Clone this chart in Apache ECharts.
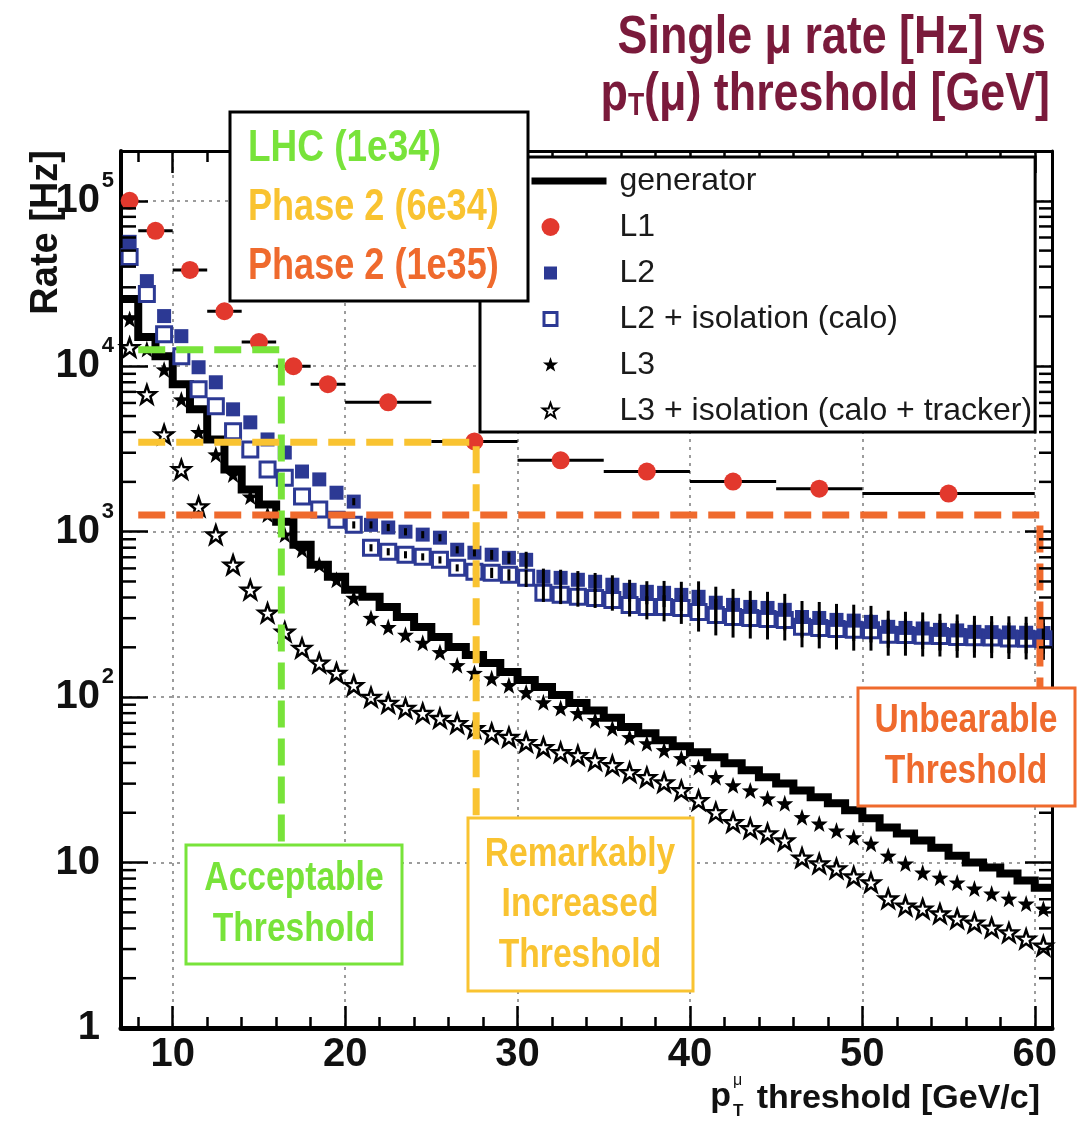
<!DOCTYPE html>
<html>
<head>
<meta charset="utf-8">
<title>Single muon rate vs pT threshold</title>
<script src="https://cdn.jsdelivr.net/npm/echarts@6/dist/echarts.min.js"></script>
<style>
  html, body { margin: 0; padding: 0; background: #fff; }
  #chart { width: 1088px; height: 1121px; }
</style>
</head>
<body>
<div id="chart"></div>
<script>
// ---- data (rates in Hz, pT in GeV/c) ----
var xMin = 7, xMax = 61, yMin = 1, yMax = 200000;

// 1 GeV bins
var binCenters = [7.5, 8.5, 9.5, 10.5, 11.5, 12.5, 13.5, 14.5, 15.5, 16.5, 17.5, 18.5, 19.5, 20.5,
  21.5, 22.5, 23.5, 24.5, 25.5, 26.5, 27.5, 28.5, 29.5, 30.5, 31.5, 32.5, 33.5, 34.5, 35.5, 36.5,
  37.5, 38.5, 39.5, 40.5, 41.5, 42.5, 43.5, 44.5, 45.5, 46.5, 47.5, 48.5, 49.5, 50.5, 51.5, 52.5,
  53.5, 54.5, 55.5, 56.5, 57.5, 58.5, 59.5, 60.5];
var genEdges = [7, 8, 9, 10, 11, 12, 13, 14, 15, 16, 17, 18, 19, 20, 21, 22, 23, 24, 25, 26, 27, 28,
  29, 30, 31, 32, 33, 34, 35, 36, 37, 38, 39, 40, 41, 42, 43, 44, 45, 46, 47, 48, 49, 50, 51, 52, 53,
  54, 55, 56, 57, 58, 59, 60, 61];

var genRate = [25500, 15000, 11500, 7790, 5490, 3610, 2380, 1800, 1460, 1150, 834, 631, 534, 445,
  404, 351, 305, 265, 231, 201, 180, 161, 142, 127, 115, 103, 92, 83, 75, 66, 60.5, 54.9, 50.5, 46.4,
  43.3, 39.8, 36.1, 32.8, 30.1, 27.3, 24.8, 22.8, 20.7, 18.5, 16.3, 15.0, 13.6, 12.3, 11.0, 10.0,
  9.33, 8.58, 7.79, 7.05];

// L1 comes in wider bins
var l1X = [7.5, 9, 11, 13, 15, 17, 19, 22.5, 27.5, 32.5, 37.5, 42.5, 47.5, 55];
var l1Lo = [7, 8, 10, 12, 14, 16, 18, 20, 25, 30, 35, 40, 45, 50];
var l1Hi = [8, 10, 12, 14, 16, 18, 20, 25, 30, 35, 40, 45, 50, 60];
var l1Rate = [100000, 65800, 38200, 21500, 14000, 10000, 7790, 6050, 3510, 2700, 2310, 2010, 1820, 1700];

var l2Rate = [56500, 32700, 20100, 15200, 9860, 8000, 5490, 4580, 3610, 3010, 2310, 2070, 1720, 1520,
  1100, 1060, 1000, 960, 920, 778, 746, 726, 695, 676, 534, 526, 512, 498, 478, 445, 433, 427, 415,
  404, 372, 361, 351, 346, 337, 305, 301, 293, 290, 285, 266, 262, 260, 255, 253, 248, 247, 246, 245, 244];
var l2Err = [0, 0, 0, 0, 0, 0, 0, 0, 0, 0, 0, 0, 0, 76, 55, 53, 50, 48, 46, 39, 37, 50, 55, 80,
  64, 63, 66, 65, 67, 67, 69, 77, 83, 97, 93, 90, 88, 87, 84, 76, 75, 73, 72, 71, 67, 66, 65, 64, 63,
  62, 62, 62, 61, 61];

var l2IsoRate = [45800, 27300, 15600, 11500, 7260, 5730, 4040, 3140, 2380, 2120, 1630, 1360, 1180, 1100,
  800, 757, 726, 705, 676, 605, 573, 565, 549, 526, 427, 415, 404, 398, 387, 361, 351, 350, 346, 327,
  314, 305, 301, 297, 293, 266, 262, 258, 255, 254, 238, 237, 235, 234, 231, 230, 229, 226, 225, 224];
var l2IsoErr = [0, 0, 0, 0, 0, 0, 0, 0, 0, 0, 0, 0, 0, 55, 40, 38, 36, 35, 34, 30, 29, 40, 44, 63,
  51, 50, 52, 52, 54, 54, 56, 63, 69, 78, 78, 76, 75, 74, 73, 66, 65, 64, 64, 63, 60, 59, 59, 58, 58,
  57, 57, 56, 56, 56];

var l3Rate = [19300, 12700, 9560, 6300, 4000, 2930, 2220, 1630, 1270, 960, 778, 631, 512, 398, 301,
  265, 238, 213, 187, 156, 140, 130, 118, 107, 93, 85.8, 80, 72.6, 64.9, 57.3, 52.6, 47.8, 42.7, 37.7,
  32.8, 29.3, 27.3, 24.4, 22.8, 18.8, 17.2, 15.6, 14.2, 13.0, 11.0, 9.86, 8.7, 8.1, 7.57, 6.96, 6.49,
  6.05, 5.65, 5.26];

var l3IsoRate = [13000, 6760, 3870, 2380, 1420, 960, 631, 445, 323, 248, 198, 161, 140, 118, 100, 92,
  85.8, 80, 74.6, 69.5, 64.9, 60.5, 57.3, 53.4, 49.8, 46.4, 44.5, 41.5, 38.7, 35.1, 32.8, 30.5, 27.3,
  23.8, 20.1, 17.5, 16.1, 15.0, 13.6, 10.7, 9.86, 9.2, 8.23, 7.57, 6.05, 5.48, 5.26, 4.91, 4.58, 4.33,
  4.04, 3.77, 3.46, 3.14];

// threshold guides: [x, rate] corners
var thrGreen = [[8, 12600], [16.3, 12600], [16.3, 12.7]];
var thrYellow = [[8, 3470], [27.6, 3470], [27.6, 18.5]];
var thrOrange = [[8, 1260], [60.3, 1260], [60.3, 113]];

var yMinorTicks = [2, 3, 4, 5, 6, 7, 8, 9, 20, 30, 40, 50, 60, 70, 80, 90, 200, 300, 400, 500, 600,
  700, 800, 900, 2000, 3000, 4000, 5000, 6000, 7000, 8000, 9000, 20000, 30000, 40000, 50000, 60000,
  70000, 80000, 90000];

// ---- styles ----
var RED = '#e2382d', BLUE = '#2c3994', GREEN = '#78e33a', YELLOW = '#f9c331', ORANGE = '#ef6a2d';
var MAROON = '#7a1a3b';
var NARROW = "'Liberation Sans Narrow', 'Liberation Sans', sans-serif";
var SANS = "'Liberation Sans', Arial, sans-serif";
var STAR = 'path://M10 0L12.351 6.764L19.511 6.91L13.804 11.236L15.878 18.09L10 14L4.122 18.09L6.196 11.236L0.489 6.91L7.649 6.764Z';
var LEG_BOX = 'M0 0M83 22';
var LEG_STAR = 'M19 3L20.88 8.41L26.61 8.53L22.04 11.99L23.7 17.47L19 14.2L14.3 17.47L15.96 11.99L11.39 8.53L17.12 8.41Z';

function pairs(xs, ys) {
  return xs.map(function (x, i) { return [x, ys[i]]; });
}

function errBars(rates, errs) {
  var out = [];
  binCenters.forEach(function (x, i) {
    if (errs[i] > 0) out.push([x, rates[i] - errs[i], rates[i] + errs[i]]);
  });
  return out;
}

function vBarItem(params, api) {
  var p1 = api.coord([api.value(0), api.value(1)]);
  var p2 = api.coord([api.value(0), api.value(2)]);
  return {
    type: 'line',
    shape: { x1: p1[0], y1: p1[1], x2: p2[0], y2: p2[1] },
    style: { stroke: '#000', lineWidth: 3 }
  };
}

function threshold(data, color) {
  return {
    type: 'line', data: data, z: 6, silent: true, symbol: 'none', animation: false,
    lineStyle: { color: color, width: 7, type: [27, 11], cap: 'butt' }
  };
}

var chart = echarts.init(document.getElementById('chart'), null, { renderer: 'canvas' });

var genData = genEdges.map(function (x, i) {
  return [x, genRate[Math.min(i, genRate.length - 1)]];
});

var option = {
  backgroundColor: '#fff',
  animation: false,
  grid: { left: 121, right: 36, top: 151, bottom: 93 },
  xAxis: [
    {
      type: 'value', position: 'bottom', min: xMin, max: xMax,
      axisLine: { lineStyle: { color: '#000', width: 5 } },
      axisTick: { inside: true, length: 22, lineStyle: { color: '#000', width: 2.5 } },
      minorTick: { show: true, splitNumber: 5, length: 11, lineStyle: { color: '#000', width: 2.5 } },
      axisLabel: {
        margin: 7, showMinLabel: false, showMaxLabel: false,
        fontSize: 40, fontWeight: 'bold', fontFamily: NARROW, color: '#111'
      },
      splitLine: {
        show: true, showMinLine: false, showMaxLine: false,
        lineStyle: { color: '#9c9c9c', width: 2, type: [3, 5] }
      }
    },
    {
      type: 'value', position: 'top', min: xMin, max: xMax,
      axisLine: { lineStyle: { color: '#000', width: 3 } },
      axisTick: { inside: true, length: 22, lineStyle: { color: '#000', width: 2.5 } },
      minorTick: { show: true, splitNumber: 5, length: 11, lineStyle: { color: '#000', width: 2.5 } },
      axisLabel: { show: false },
      splitLine: { show: false }
    }
  ],
  yAxis: [
    {
      type: 'log', logBase: 10, position: 'left', min: yMin, max: yMax,
      axisLine: { lineStyle: { color: '#000', width: 4 } },
      axisTick: { inside: true, length: 27, lineStyle: { color: '#000', width: 2.5 } },
      axisLabel: {
        margin: 7, showMaxLabel: false, color: '#111',
        formatter: function (v) {
          var e = Math.round(Math.log10(v));
          if (e === 0) return '{b|1}{s|\u00a0}';
          if (e === 1) return '{b|10}{s|\u00a0}';
          return '{b|10}{s|' + e + '}';
        },
        rich: {
          b: { fontSize: 40, fontWeight: 'bold', fontFamily: NARROW, color: '#111' },
          s: { fontSize: 22, fontWeight: 'bold', fontFamily: NARROW, color: '#111', width: 14, padding: [0, 0, 40, 0] }
        }
      },
      splitLine: {
        show: true, showMinLine: false, showMaxLine: false,
        lineStyle: { color: '#9c9c9c', width: 2, type: [3, 5] }
      }
    },
    {
      type: 'log', logBase: 10, position: 'right', min: yMin, max: yMax,
      axisLine: { lineStyle: { color: '#000', width: 3 } },
      axisTick: { inside: true, length: 27, lineStyle: { color: '#000', width: 2.5 } },
      axisLabel: { show: false },
      splitLine: { show: false }
    }
  ],
  legend: {
    orient: 'vertical', left: 480, top: 157,
    padding: [8, 3, 5, 50], itemGap: 14, itemWidth: 83, itemHeight: 22,
    backgroundColor: '#fff', borderColor: '#000', borderWidth: 3,
    selectedMode: false,
    textStyle: { fontSize: 32, fontFamily: SANS, color: '#1a1a1a' },
    data: [
      { name: 'generator', icon: 'path://' + LEG_BOX + 'M0 7.5H75V14.5H0Z', itemStyle: { color: '#000', borderWidth: 0, opacity: 1 } },
      { name: 'L1', icon: 'path://' + LEG_BOX + 'M10 11A9 9 0 1 0 28 11A9 9 0 1 0 10 11Z', itemStyle: { color: RED, borderWidth: 0, opacity: 1 } },
      { name: 'L2', icon: 'path://' + LEG_BOX + 'M12.5 4.5H25.5V17.5H12.5Z', itemStyle: { color: BLUE, borderWidth: 0, opacity: 1 } },
      { name: 'L2 + isolation (calo)', icon: 'path://' + LEG_BOX + 'M12.5 4.5H25.5V17.5H12.5Z', itemStyle: { color: '#fff', borderColor: BLUE, borderWidth: 3, opacity: 1 } },
      { name: 'L3', icon: 'path://' + LEG_BOX + LEG_STAR, itemStyle: { color: '#000', borderWidth: 0, opacity: 1 } },
      { name: 'L3 + isolation (calo + tracker)', icon: 'path://' + LEG_BOX + LEG_STAR, itemStyle: { color: 'rgba(0,0,0,0)', borderColor: '#000', borderWidth: 2, opacity: 1 } }
    ]
  },
  series: [
    {
      name: 'generator', type: 'line', step: 'end', data: genData, z: 2,
      showSymbol: false, symbol: 'none', color: '#000',
      lineStyle: { color: '#000', width: 8, join: 'miter' }
    },
    {
      name: 'L1 bins', type: 'custom', z: 3, silent: true,
      data: l1X.map(function (x, i) { return [l1Lo[i], l1Hi[i], l1Rate[i]]; }),
      encode: { x: [0, 1], y: 2 },
      renderItem: function (params, api) {
        var p1 = api.coord([api.value(0), api.value(2)]);
        var p2 = api.coord([api.value(1), api.value(2)]);
        return {
          type: 'line',
          shape: { x1: p1[0], y1: p1[1], x2: p2[0], y2: p2[1] },
          style: { stroke: '#000', lineWidth: 3 }
        };
      }
    },
    {
      name: 'L1', type: 'scatter', data: pairs(l1X, l1Rate), z: 4,
      symbol: 'circle', symbolSize: 18, itemStyle: { color: RED, opacity: 1 }
    },
    {
      name: 'L2 + isolation (calo)', type: 'scatter', data: pairs(binCenters, l2IsoRate), z: 4,
      symbol: 'rect', symbolSize: 15,
      itemStyle: { color: '#fff', borderColor: BLUE, borderWidth: 3, opacity: 1 }
    },
    {
      name: 'L2', type: 'scatter', data: pairs(binCenters, l2Rate), z: 4,
      symbol: 'rect', symbolSize: 14, itemStyle: { color: BLUE, opacity: 1 }
    },
    {
      name: 'L2 err', type: 'custom', z: 5, silent: true,
      data: errBars(l2Rate, l2Err), encode: { x: 0, y: [1, 2] }, renderItem: vBarItem
    },
    {
      name: 'L2 iso err', type: 'custom', z: 5, silent: true,
      data: errBars(l2IsoRate, l2IsoErr), encode: { x: 0, y: [1, 2] }, renderItem: vBarItem
    },
    {
      name: 'L3', type: 'scatter', data: pairs(binCenters, l3Rate), z: 4,
      symbol: STAR, symbolSize: 17, itemStyle: { color: '#000', opacity: 1 }
    },
    {
      name: 'L3 + isolation (calo + tracker)', type: 'scatter', data: pairs(binCenters, l3IsoRate), z: 4,
      symbol: STAR, symbolSize: 18,
      itemStyle: { color: 'rgba(0,0,0,0)', borderColor: '#000', borderWidth: 2.5, opacity: 1 }
    },
    threshold(thrGreen, GREEN),
    threshold(thrYellow, YELLOW),
    threshold(thrOrange, ORANGE),
    {
      // minor log ticks on left and right frame
      name: 'y minor ticks', type: 'custom', z: 10, silent: true,
      data: yMinorTicks.map(function (v) { return [xMin, v]; }),
      renderItem: function (params, api) {
        var cs = params.coordSys;
        var y = api.coord([xMin, api.value(1)])[1];
        var st = { stroke: '#000', lineWidth: 2.5 };
        return {
          type: 'group',
          children: [
            { type: 'line', shape: { x1: cs.x, y1: y, x2: cs.x + 15, y2: y }, style: st },
            { type: 'line', shape: { x1: cs.x + cs.width, y1: y, x2: cs.x + cs.width - 13, y2: y }, style: st }
          ]
        };
      }
    }
  ],
  graphic: [
    // header
    {
      type: 'text', x: 1046, y: 38, scaleX: 0.83, z: 100,
      style: { text: 'Single μ rate [Hz] vs', fill: MAROON, fontSize: 54, fontWeight: 'bold', fontFamily: SANS, align: 'right', verticalAlign: 'middle' }
    },
    {
      type: 'text', x: 1050, y: 95, scaleX: 0.83, z: 100,
      style: {
        text: '{a|p}{t|T}{a|(μ) threshold [GeV]}', align: 'right', verticalAlign: 'middle',
        rich: {
          a: { fontSize: 54, fontWeight: 'bold', fontFamily: SANS, fill: MAROON },
          t: { fontSize: 32, fontWeight: 'bold', fontFamily: SANS, fill: MAROON, verticalAlign: 'bottom' }
        }
      }
    },
    // axis titles
    {
      type: 'text', x: 47, y: 150, rotation: Math.PI / 2, z: 100,
      style: { text: 'Rate [Hz]', fill: '#111', fontSize: 38, fontWeight: 'bold', fontFamily: SANS, align: 'right', verticalAlign: 'middle' }
    },
    {
      type: 'text', x: 1040, y: 1099, z: 100,
      style: { text: 'threshold [GeV/c]', fill: '#111', fontSize: 34, fontWeight: 'bold', fontFamily: SANS, align: 'right', verticalAlign: 'middle' }
    },
    {
      type: 'text', x: 731, y: 1097, z: 100,
      style: { text: 'p', fill: '#111', fontSize: 34, fontWeight: 'bold', fontFamily: SANS, align: 'right', verticalAlign: 'middle' }
    },
    {
      type: 'text', x: 733, y: 1081, z: 100,
      style: { text: 'μ', fill: '#111', fontSize: 16, fontFamily: SANS, align: 'left', verticalAlign: 'middle' }
    },
    {
      type: 'text', x: 733, y: 1111, z: 100,
      style: { text: 'T', fill: '#111', fontSize: 17, fontWeight: 'bold', fontFamily: SANS, align: 'left', verticalAlign: 'middle' }
    },
    // luminosity box
    {
      type: 'rect', x: 230, y: 112, z: 100,
      shape: { width: 298, height: 189 },
      style: { fill: '#fff', stroke: '#000', lineWidth: 3 }
    },
    {
      type: 'text', x: 248, y: 149, scaleX: 0.84, z: 101,
      style: { text: 'LHC (1e34)', fill: GREEN, fontSize: 44, fontWeight: 'bold', fontFamily: SANS, align: 'left', verticalAlign: 'middle' }
    },
    {
      type: 'text', x: 248, y: 208, scaleX: 0.82, z: 101,
      style: { text: 'Phase 2 (6e34)', fill: YELLOW, fontSize: 44, fontWeight: 'bold', fontFamily: SANS, align: 'left', verticalAlign: 'middle' }
    },
    {
      type: 'text', x: 248, y: 267, scaleX: 0.82, z: 101,
      style: { text: 'Phase 2 (1e35)', fill: ORANGE, fontSize: 44, fontWeight: 'bold', fontFamily: SANS, align: 'left', verticalAlign: 'middle' }
    },
    // threshold boxes
    {
      type: 'rect', x: 186, y: 845, z: 100,
      shape: { width: 216, height: 119 },
      style: { fill: '#fff', stroke: GREEN, lineWidth: 3 }
    },
    {
      type: 'text', x: 294, y: 879, scaleX: 0.84, z: 101,
      style: { text: 'Acceptable', fill: GREEN, fontSize: 40, fontWeight: 'bold', fontFamily: SANS, align: 'center', verticalAlign: 'middle' }
    },
    {
      type: 'text', x: 294, y: 930, scaleX: 0.84, z: 101,
      style: { text: 'Threshold', fill: GREEN, fontSize: 40, fontWeight: 'bold', fontFamily: SANS, align: 'center', verticalAlign: 'middle' }
    },
    {
      type: 'rect', x: 468, y: 818, z: 100,
      shape: { width: 225, height: 173 },
      style: { fill: '#fff', stroke: YELLOW, lineWidth: 3 }
    },
    {
      type: 'text', x: 580, y: 855, scaleX: 0.84, z: 101,
      style: { text: 'Remarkably', fill: YELLOW, fontSize: 40, fontWeight: 'bold', fontFamily: SANS, align: 'center', verticalAlign: 'middle' }
    },
    {
      type: 'text', x: 580, y: 905, scaleX: 0.84, z: 101,
      style: { text: 'Increased', fill: YELLOW, fontSize: 40, fontWeight: 'bold', fontFamily: SANS, align: 'center', verticalAlign: 'middle' }
    },
    {
      type: 'text', x: 580, y: 956, scaleX: 0.84, z: 101,
      style: { text: 'Threshold', fill: YELLOW, fontSize: 40, fontWeight: 'bold', fontFamily: SANS, align: 'center', verticalAlign: 'middle' }
    },
    {
      type: 'rect', x: 858, y: 688, z: 100,
      shape: { width: 217, height: 118 },
      style: { fill: '#fff', stroke: ORANGE, lineWidth: 3 }
    },
    {
      type: 'text', x: 966, y: 721, scaleX: 0.84, z: 101,
      style: { text: 'Unbearable', fill: ORANGE, fontSize: 40, fontWeight: 'bold', fontFamily: SANS, align: 'center', verticalAlign: 'middle' }
    },
    {
      type: 'text', x: 966, y: 772, scaleX: 0.84, z: 101,
      style: { text: 'Threshold', fill: ORANGE, fontSize: 40, fontWeight: 'bold', fontFamily: SANS, align: 'center', verticalAlign: 'middle' }
    }
  ]
};

chart.setOption(option);
</script>
</body>
</html>
